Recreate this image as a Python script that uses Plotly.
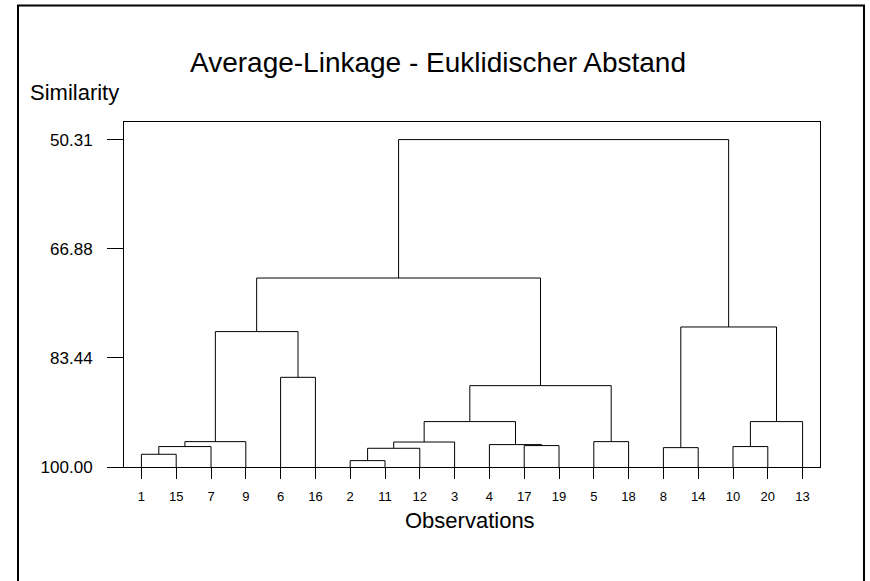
import plotly.graph_objects as go

# ---- data ----
leaf_order = [1, 15, 7, 9, 6, 16, 2, 11, 12, 3, 4, 17, 19, 5, 18, 8, 14, 10, 20, 13]
# merges: (left child, right child, similarity level); new clusters named C1..C19
merge_left = ["1", "C1", "C2", "6", "C3", "2", "C6", "C7", "17", "4", "C8", "5", "C11", "C5", "8", "10", "C16", "C15", "C14"]
merge_right = ["15", "7", "9", "16", "C4", "11", "12", "3", "19", "C9", "C10", "18", "C12", "C13", "14", "20", "13", "C17", "C18"]
merge_similarity = [98.07, 96.90, 96.15, 86.39, 79.45, 99.03, 97.16, 96.21, 96.75, 96.60,
                    93.11, 96.15, 87.65, 71.32, 97.06, 96.90, 93.11, 78.75, 50.31]
y_tick_values = [50.31, 66.88, 83.44, 100.00]
y_tick_labels = ["50.31", "66.88", "83.44", "100.00"]

title_text = "Average-Linkage - Euklidischer Abstand"
y_title = "Similarity"
x_title = "Observations"

# ---- build dendrogram segments ----
pos = {}
height = {}
for i, leaf in enumerate(leaf_order):
    pos[str(leaf)] = i + 1
    height[str(leaf)] = 100.0

xs, ys = [], []
for k, (a, b, s) in enumerate(zip(merge_left, merge_right, merge_similarity)):
    name = f"C{k + 1}"
    xa, xb = pos[a], pos[b]
    xs += [xa, xa, xb, xb, None]
    ys += [height[a], s, s, height[b], None]
    pos[name] = (xa + xb) / 2
    height[name] = s

FONT = "Liberation Sans, Arial, sans-serif"

fig = go.Figure()
fig.add_trace(go.Scatter(x=xs, y=ys, mode="lines",
                         line=dict(color="black", width=1),
                         hoverinfo="skip", showlegend=False))

W, H = 870, 581
ml, mr, mt, mb = 124, 50, 122, 114
pw = W - ml - mr
ph = H - mt - mb

def px_x(px):
    return (px - ml) / pw

def px_y(py):
    return (H - mb - py) / ph

fig.update_layout(
    width=W, height=H,
    margin=dict(l=ml, r=mr, t=mt, b=mb, pad=0),
    paper_bgcolor="white", plot_bgcolor="white",
    font=dict(family=FONT, color="black"),
    showlegend=False,
    xaxis=dict(
        range=[0.5, 20.5],
        tickmode="array",
        tickvals=list(range(1, 21)),
        ticktext=[str(v) for v in leaf_order],
        ticks="outside", ticklen=11, tickwidth=1, tickcolor="black",
        showline=True, linecolor="black", linewidth=1, mirror=True,
        showgrid=False, zeroline=False,
        tickfont=dict(size=13, family=FONT, color="black"),
        ticklabelstandoff=6,
    ),
    yaxis=dict(
        range=[100, 47.64],
        tickmode="array",
        tickvals=y_tick_values,
        ticktext=y_tick_labels,
        ticks="outside", ticklen=16, tickwidth=1, tickcolor="black",
        showline=True, linecolor="black", linewidth=1, mirror=True,
        showgrid=False, zeroline=False,
        tickfont=dict(size=17, family=FONT, color="black"),
        ticklabelstandoff=11,
    ),
    shapes=[dict(
        type="rect", xref="paper", yref="paper",
        x0=px_x(18), x1=px_x(864), y0=px_y(600), y1=px_y(5.5),
        line=dict(color="black", width=2), fillcolor="rgba(0,0,0,0)", layer="above",
    )],
    annotations=[
        dict(text=title_text, xref="paper", yref="paper",
             x=px_x(438), y=px_y(62.5), xanchor="center", yanchor="middle",
             showarrow=False, font=dict(size=28, family=FONT, color="black")),
        dict(text=y_title, xref="paper", yref="paper",
             x=px_x(28), y=px_y(92.3), xanchor="left", yanchor="middle",
             showarrow=False, font=dict(size=22, family=FONT, color="black")),
        dict(text=x_title, xref="paper", yref="paper",
             x=px_x(470), y=px_y(520), xanchor="center", yanchor="middle",
             showarrow=False, font=dict(size=22, family=FONT, color="black")),
    ],
)

fig.write_html("out.html", config={"displayModeBar": False})
